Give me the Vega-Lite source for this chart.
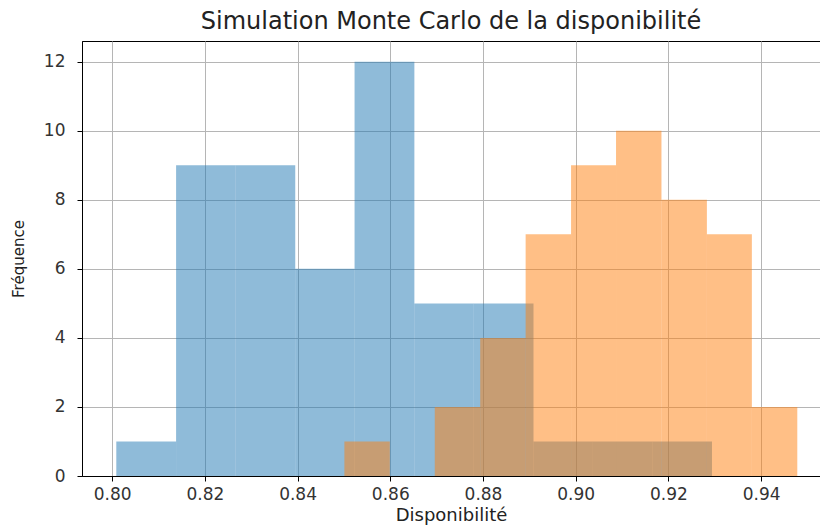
{
  "$schema": "https://vega.github.io/schema/vega-lite/v6.json",
  "autosize": "none",
  "width": 738,
  "height": 435,
  "padding": {"left": 82, "top": 41, "right": 0, "bottom": 53},
  "background": "white",
  "title": {
    "text": "Simulation Monte Carlo de la disponibilité",
    "font": "DejaVu Sans",
    "fontSize": 24,
    "fontWeight": "normal",
    "color": "#222",
    "anchor": "middle",
    "offset": 7
  },
  "config": {
    "view": {"stroke": "#000", "strokeWidth": 1},
    "axis": {
      "labelFont": "DejaVu Sans",
      "labelFontSize": 17,
      "labelColor": "#333",
      "titleFont": "DejaVu Sans",
      "titleFontWeight": "normal",
      "titleColor": "#222",
      "domainColor": "#000",
      "domainWidth": 1,
      "tickColor": "#000",
      "tickSize": 5,
      "tickWidth": 1,
      "grid": true,
      "gridColor": "#b5b5b5",
      "gridWidth": 1,
      "zindex": 1
    }
  },
  "data": {
    "values": [
      {"serie": "A", "debut": 0.8009, "fin": 0.8138, "n": 1},
      {"serie": "A", "debut": 0.8138, "fin": 0.8266, "n": 9},
      {"serie": "A", "debut": 0.8266, "fin": 0.8395, "n": 9},
      {"serie": "A", "debut": 0.8395, "fin": 0.8523, "n": 6},
      {"serie": "A", "debut": 0.8523, "fin": 0.8652, "n": 12},
      {"serie": "A", "debut": 0.8652, "fin": 0.8780, "n": 5},
      {"serie": "A", "debut": 0.8780, "fin": 0.8909, "n": 5},
      {"serie": "A", "debut": 0.8909, "fin": 0.9037, "n": 1},
      {"serie": "A", "debut": 0.9037, "fin": 0.9166, "n": 1},
      {"serie": "A", "debut": 0.9166, "fin": 0.9294, "n": 1},
      {"serie": "B", "debut": 0.8501, "fin": 0.8599, "n": 1},
      {"serie": "B", "debut": 0.8599, "fin": 0.8696, "n": 0},
      {"serie": "B", "debut": 0.8696, "fin": 0.8794, "n": 2},
      {"serie": "B", "debut": 0.8794, "fin": 0.8892, "n": 4},
      {"serie": "B", "debut": 0.8892, "fin": 0.8990, "n": 7},
      {"serie": "B", "debut": 0.8990, "fin": 0.9087, "n": 9},
      {"serie": "B", "debut": 0.9087, "fin": 0.9185, "n": 10},
      {"serie": "B", "debut": 0.9185, "fin": 0.9283, "n": 8},
      {"serie": "B", "debut": 0.9283, "fin": 0.9380, "n": 7},
      {"serie": "B", "debut": 0.9380, "fin": 0.9478, "n": 2}
    ]
  },
  "mark": {"type": "rect", "opacity": 0.5, "strokeWidth": 0},
  "encoding": {
    "x": {
      "field": "debut",
      "type": "quantitative",
      "scale": {"domain": [0.7935, 0.9527], "nice": false, "zero": false},
      "axis": {"title": "Disponibilité", "titleFontSize": 18, "values": [0.8, 0.82, 0.84, 0.86, 0.88, 0.9, 0.92, 0.94], "format": ".2f", "labelPadding": 5, "titlePadding": 4}
    },
    "x2": {"field": "fin"},
    "y": {
      "field": "n",
      "type": "quantitative",
      "scale": {"domain": [0, 12.6], "nice": false},
      "axis": {"title": "Fréquence", "titleFontSize": 15, "values": [0, 2, 4, 6, 8, 10, 12], "labelPadding": 12, "titlePadding": 17}
    },
    "y2": {"datum": 0},
    "color": {
      "field": "serie",
      "type": "nominal",
      "scale": {"domain": ["A", "B"], "range": ["#1f77b4", "#ff7f0e"]},
      "legend": null
    }
  }
}
